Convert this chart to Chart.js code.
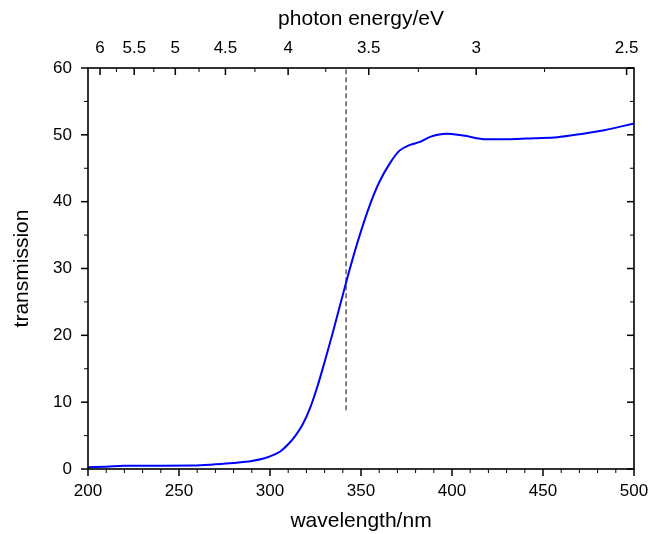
<!DOCTYPE html>
<html>
<head>
<meta charset="utf-8">
<script src="https://cdn.jsdelivr.net/npm/chart.js@4.4.0/dist/chart.umd.min.js"></script>
<style>
    html, body { margin: 0; padding: 0; background: #fff; }
    #wrap { width: 649px; height: 534px; position: relative; }
</style>
</head>
<body>
<div id="wrap"><canvas id="mainChart"></canvas></div>
<script>
// spectrum: wavelength (nm) -> transmission
const wavelengthNm = [200, 210, 220, 240, 258, 270, 280, 290, 297, 302, 306, 310, 314, 318,
    322, 326, 330, 334, 338, 342, 346, 350, 355, 360, 366, 371, 377, 382, 388, 393, 397,
    406, 419, 432, 445, 458, 470, 483, 500]
const transmission = [0.25, 0.35, 0.5, 0.5, 0.52, 0.7, 0.9, 1.2, 1.6, 2.1, 2.7, 3.7, 5.0, 6.7,
    9.1, 12.3, 16.0, 19.9, 24.0, 28.1, 32.0, 35.6, 39.6, 42.9, 45.8, 47.6, 48.5, 48.9, 49.7, 50.05, 50.15,
    49.9, 49.35, 49.35, 49.5, 49.65, 50.1, 50.65, 51.7]

// dashed marker line
const markerWavelength = 341.8
const markerFrom = 8.8
const markerTo = 60

// axes
const wavelengthRange = [200, 500]
const transmissionRange = [0, 60]
const HC_EV_NM = 1239.84   // E(eV) = hc / lambda(nm)
const energyMajorTicks = [6, 5.5, 5, 4.5, 4, 3.5, 3, 2.5]
const energyMinorTicks = [5.75, 5.25, 4.75, 4.25, 3.75, 3.25, 2.75]

const FONT = '"Liberation Sans", Arial, sans-serif'
Chart.defaults.font.family = FONT
Chart.defaults.color = '#000'

// frame + tick marks (major / minor, inward / outward like the original)
const frameAndTicks = {
    id: 'frameAndTicks',
    afterDatasetsDraw(chart) {
        const ctx = chart.ctx
        const a = chart.chartArea
        const xs = chart.scales.x
        const ys = chart.scales.y
        ctx.save()
        ctx.strokeStyle = '#000'
        const tick = (x1, y1, x2, y2, w) => {
            ctx.lineWidth = w
            ctx.beginPath()
            ctx.moveTo(x1, y1)
            ctx.lineTo(x2, y2)
            ctx.stroke()
        }
        for (let w = wavelengthRange[0]; w <= wavelengthRange[1]; w += 10) {
            const px = xs.getPixelForValue(w)
            const major = w % 50 === 0
            tick(px, a.bottom, px, a.bottom + (major ? 7 : 4), major ? 1.5 : 1)
        }
        for (let t = transmissionRange[0]; t <= transmissionRange[1]; t += 5) {
            const py = ys.getPixelForValue(t)
            const major = t % 10 === 0
            const len = major ? 7 : 4
            tick(a.left - len, py, a.left, py, major ? 1.5 : 1)
            tick(a.right - len, py, a.right, py, major ? 1.5 : 1)
        }
        energyMajorTicks.forEach(e => {
            const px = xs.getPixelForValue(HC_EV_NM / e)
            tick(px, a.top, px, a.top + 7, 1.5)
        })
        energyMinorTicks.forEach(e => {
            const px = xs.getPixelForValue(HC_EV_NM / e)
            tick(px, a.top, px, a.top + 4, 1)
        })
        ctx.lineWidth = 1.6
        ctx.strokeRect(a.left, a.top, a.right - a.left, a.bottom - a.top)
        ctx.restore()
    }
}

const spectrum = wavelengthNm.map((w, i) => ({ x: w, y: transmission[i] }))
const marker = [{ x: markerWavelength, y: markerFrom }, { x: markerWavelength, y: markerTo }]

const hidden = { display: false, drawTicks: false }
const noBorder = { display: false }

// keep the plot box fixed, labels may hang over the edges
function fixHorizontal(h) {
    return scale => {
        scale.height = h
        scale.paddingLeft = 0
        scale.paddingRight = 0
    }
}

const ctx = document.getElementById('mainChart').getContext('2d')
window.myChart = new Chart(ctx, {
    type: 'line',
    data: {
        datasets: [
            {
                label: 'transmission',
                data: spectrum,
                borderColor: '#0000ff',
                borderWidth: 2,
                pointRadius: 0,
                cubicInterpolationMode: 'monotone',
                fill: false
            },
            {
                label: 'marker',
                data: marker,
                borderColor: '#444',
                borderWidth: 1.3,
                borderDash: [5, 3],
                pointRadius: 0,
                fill: false
            }
        ]
    },
    options: {
        responsive: true,
        maintainAspectRatio: false,
        animation: false,
        layout: { padding: { left: 0, right: 15, top: 0, bottom: 0 } },
        plugins: { legend: { display: false }, tooltip: { enabled: false } },
        scales: {
            x: {
                type: 'linear',
                position: 'bottom',
                min: wavelengthRange[0],
                max: wavelengthRange[1],
                grid: hidden,
                border: noBorder,
                ticks: { stepSize: 50, padding: 12, maxRotation: 0, font: { size: 17 } },
                title: { display: true, text: 'wavelength/nm', font: { size: 21 }, padding: { top: 0, bottom: 0 } },
                afterFit: fixHorizontal(65)
            },
            xTop: {
                type: 'linear',
                position: 'top',
                min: wavelengthRange[0],
                max: wavelengthRange[1],
                grid: hidden,
                border: noBorder,
                afterBuildTicks: scale => {
                    scale.ticks = energyMajorTicks.map(e => ({ value: HC_EV_NM / e }))
                },
                ticks: {
                    autoSkip: false,
                    maxRotation: 0,
                    padding: 9,
                    font: { size: 17 },
                    callback: v => String(Math.round(HC_EV_NM / v * 100) / 100)
                },
                title: { display: true, text: 'photon energy/eV', font: { size: 21 }, padding: { top: 7, bottom: 0 } },
                afterFit: fixHorizontal(68)
            },
            y: {
                type: 'linear',
                position: 'left',
                min: transmissionRange[0],
                max: transmissionRange[1],
                grid: hidden,
                border: noBorder,
                ticks: { stepSize: 10, padding: 16, font: { size: 17 } },
                title: { display: true, text: 'transmission', font: { size: 21 }, padding: { top: 10, bottom: 0 } },
                afterFit: scale => {
                    scale.width = 88
                    scale.paddingTop = 0
                    scale.paddingBottom = 0
                }
            }
        }
    },
    plugins: [frameAndTicks]
})
</script>
</body>
</html>
